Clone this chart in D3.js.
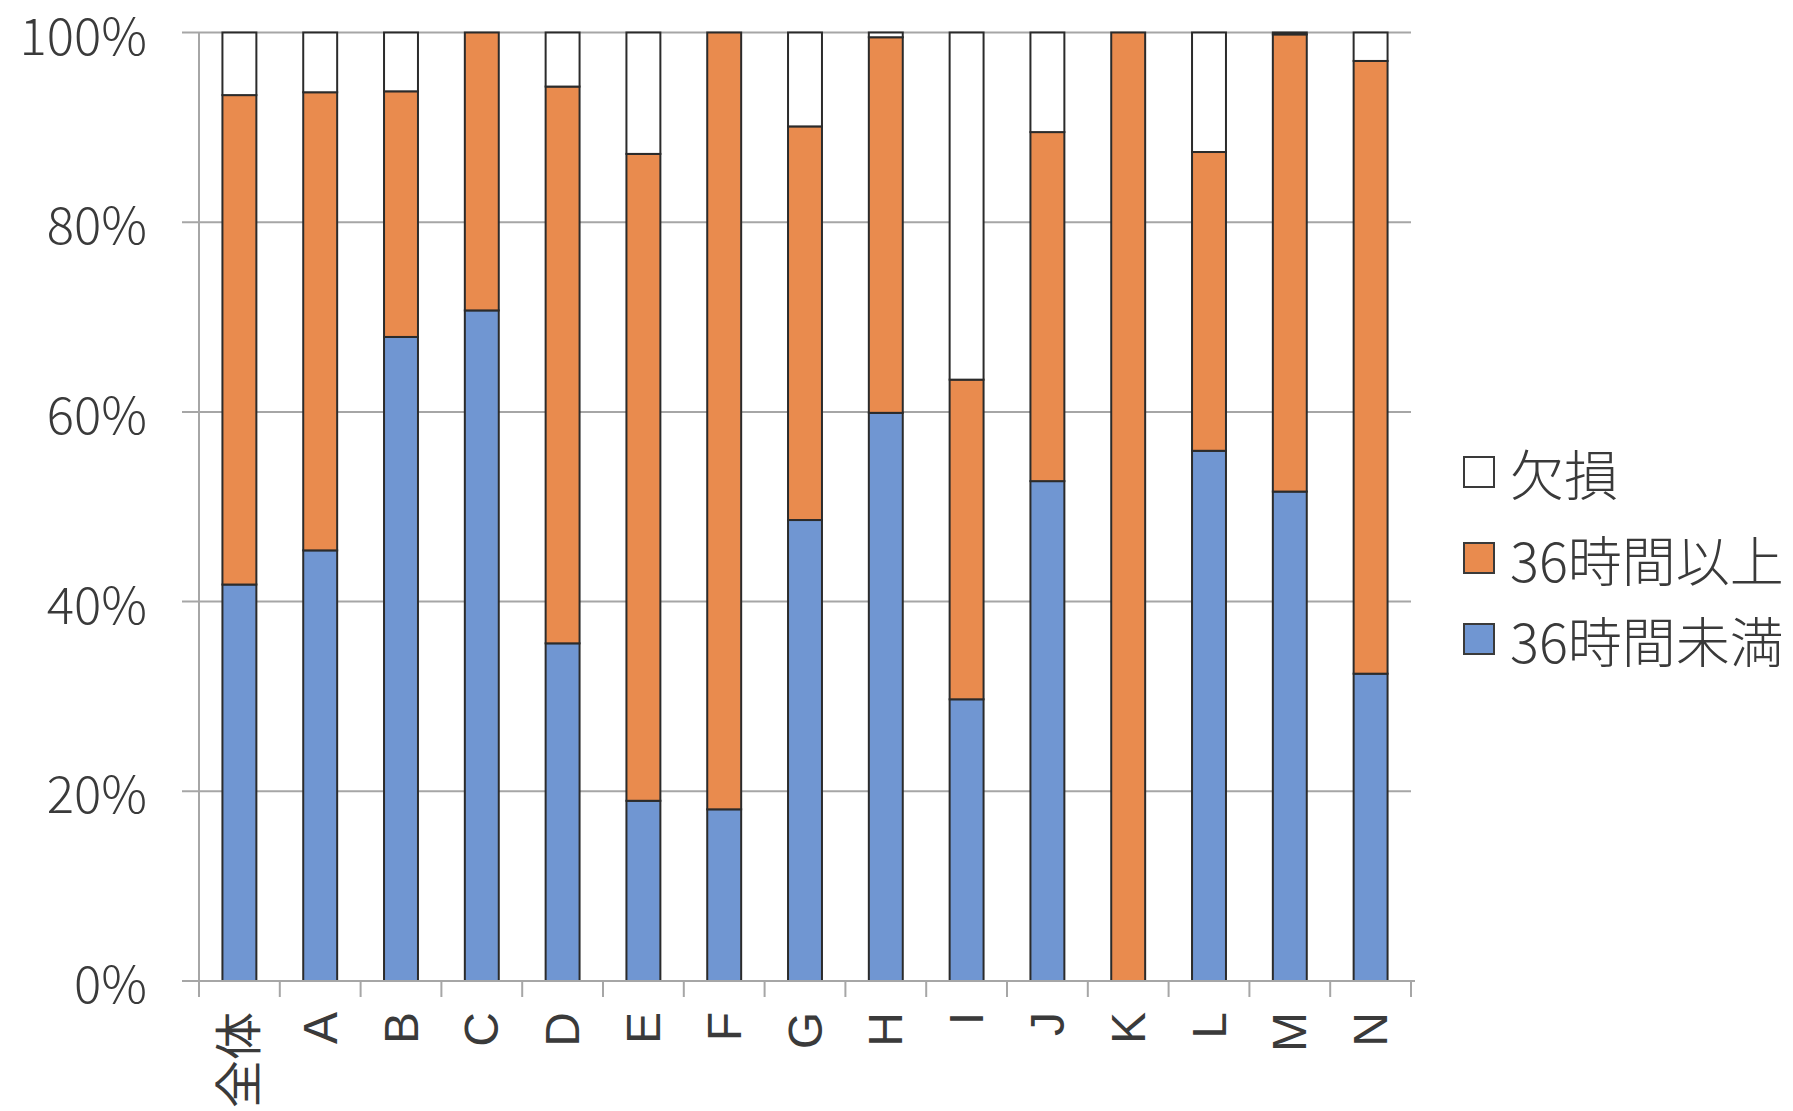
<!DOCTYPE html>
<html><head><meta charset="utf-8">
<script src="https://cdn.jsdelivr.net/npm/d3@7"></script>
<style>
html,body{margin:0;padding:0;background:#fff;}
svg{display:block;}
</style></head>
<body>
<svg id="chart" width="1793" height="1111"></svg>
<script>
const categories = ["全体","A","B","C","D","E","F","G","H","I","J","K","L","M","N"];
const under36 = [41.8,45.4,67.9,70.7,35.6,19.0,18.1,48.6,59.9,29.7,52.7,0,55.9,51.6,32.4];
const over36  = [51.6,48.3,25.9,29.3,58.7,68.2,81.9,41.5,39.6,33.7,36.8,100,31.5,48.2,64.6];
const missing = categories.map((c,i)=>Math.max(0, +(100 - under36[i] - over36[i]).toFixed(1)));
const yTicks = [0,20,40,60,80,100];
const seriesNames = ["36時間未満","36時間以上","欠損"];
const seriesColors = ["#7096d2","#e98b4e","#ffffff"];
const legendOrder = ["欠損","36時間以上","36時間未満"];

(function(){
const svg = d3.select("#chart");
const pL = 199, pR = 1411, pT = 32.5, pB = 981;

const x = d3.scaleBand().domain(categories).range([pL, pR]).paddingInner(0.58).paddingOuter(0.29);
const y = d3.scaleLinear().domain([0,100]).range([pB, pT]);

const rows = categories.map((c,i)=>({cat:c, "36時間未満":under36[i], "36時間以上":over36[i], "欠損":missing[i]}));
const stack = d3.stack().keys(seriesNames)(rows);
const color = d3.scaleOrdinal().domain(seriesNames).range(seriesColors);

// gridlines
svg.append("g").selectAll("line").data(yTicks.filter(t=>t>0)).join("line")
  .attr("x1", 182).attr("x2", pR)
  .attr("y1", d=>y(d)).attr("y2", d=>y(d))
  .attr("stroke","#a6a6a6").attr("stroke-width",2);

// y axis line
svg.append("line").attr("x1",pL).attr("x2",pL).attr("y1",y(100)).attr("y2",pB)
  .attr("stroke","#a6a6a6").attr("stroke-width",2);

// y tick labels
svg.append("g").selectAll("text").data(yTicks).join("text")
  .attr("x", 147).attr("y", d=>y(d))
  .attr("text-anchor","end").attr("dominant-baseline","central")
  .attr("font-family","'Noto Sans CJK JP','Noto Sans',sans-serif")
  .attr("font-size",51).attr("font-weight",300).attr("fill","#3a3a3a")
  .text(d=>d+"%");

// bars
svg.append("g").selectAll("g").data(stack).join("g")
  .attr("fill", d=>color(d.key))
  .selectAll("rect").data(d=>d.filter(p=>p[1]-p[0]>0)).join("rect")
  .attr("x", d=>x(d.data.cat))
  .attr("width", x.bandwidth())
  .attr("y", d=>y(d[1]))
  .attr("height", d=>y(d[0])-y(d[1]))
  .attr("stroke","#2b2b2b").attr("stroke-width",2);

// x axis line + ticks
svg.append("line").attr("x1",182).attr("x2",pR+4).attr("y1",pB).attr("y2",pB)
  .attr("stroke","#a6a6a6").attr("stroke-width",2);
const edges = d3.range(categories.length+1).map(i=>pL + i*x.step());
svg.append("g").selectAll("line").data(edges).join("line")
  .attr("x1",d=>d).attr("x2",d=>d).attr("y1",pB).attr("y2",pB+16)
  .attr("stroke","#a6a6a6").attr("stroke-width",2);

// x labels rotated
svg.append("g").selectAll("text").data(categories).join("text")
  .attr("transform", d=>`translate(${x(d)+x.bandwidth()/2},1012) rotate(-90)`)
  .attr("text-anchor","end").attr("dominant-baseline","central")
  .attr("font-family","'Liberation Sans','Noto Sans CJK JP',sans-serif")
  .attr("font-size",48).attr("fill","#3a3a3a")
  .text(d=>d);

// legend
const lg = svg.append("g");
const legY = [472, 558, 639];
legendOrder.forEach((name,i)=>{
  lg.append("rect").attr("x",1464).attr("y",legY[i]-15).attr("width",30).attr("height",30)
    .attr("fill", color(name)).attr("stroke","#3a3a3a").attr("stroke-width",2);
  lg.append("text").attr("x",1510).attr("y",legY[i]).attr("dominant-baseline","central")
    .attr("font-family","'Noto Sans CJK JP',sans-serif").attr("font-size",54).attr("font-weight",300).attr("fill","#3a3a3a")
    .text(name);
});
})();
</script>
</body></html>
